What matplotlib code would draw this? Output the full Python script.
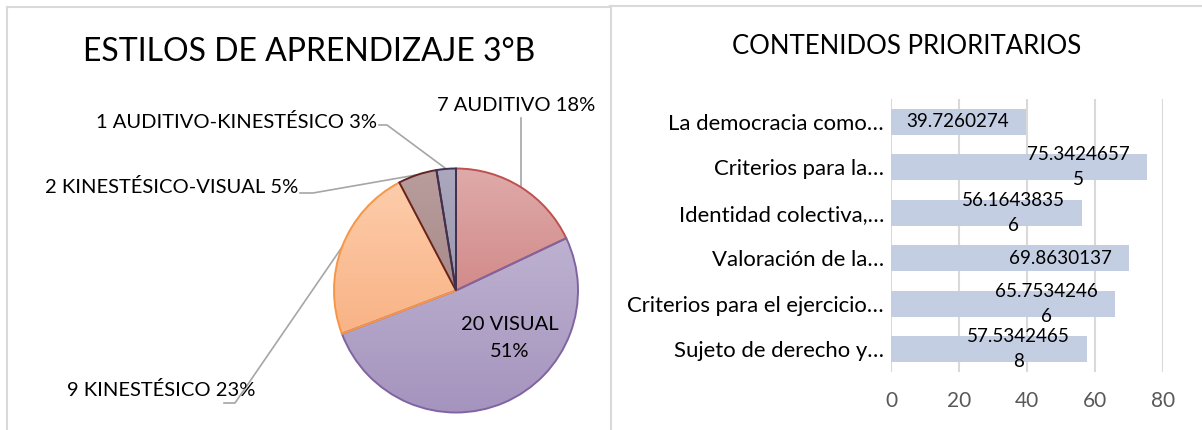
import matplotlib
matplotlib.use("Agg")
import matplotlib.pyplot as plt
import numpy as np
from matplotlib.lines import Line2D
from matplotlib.colors import LinearSegmentedColormap

plt.rcParams["font.family"] = ["Lato", "DejaVu Sans"]

# pie data
pie_title = "ESTILOS DE APRENDIZAJE 3°B"
styles = ["AUDITIVO", "VISUAL", "KINESTÉSICO", "KINESTÉSICO-VISUAL", "AUDITIVO-KINESTÉSICO"]
counts = [7, 20, 9, 2, 1]

# bar data (top to bottom)
bar_title = "CONTENIDOS PRIORITARIOS"
topics = [
    "La democracia como…",
    "Criterios para la…",
    "Identidad colectiva,…",
    "Valoración de la…",
    "Criterios para el ejercicio…",
    "Sujeto de derecho y…",
]
scores = [39.7260274, 75.34246575, 56.16438356, 69.8630137, 65.75342466, 57.53424658]
x_ticks = [0, 20, 40, 60, 80]

W, H = 1202, 430
fig = plt.figure(figsize=(W / 100, H / 100), dpi=100)

def fx(px):
    return px / W

def fy(py):
    return 1 - py / H

# panel borders
border = "#D9D9D9"
for xs, ys in [((7, 610), (6.7, 6.7)), ((7, 7), (6.7, 430)),
               ((610.5, 610.5), (5.5, 430)), ((610, 1202), (5.5, 5.5))]:
    fig.add_artist(Line2D([fx(x) for x in xs], [fy(y) for y in ys], color=border, lw=1.5))

# ---- pie ----
cx, cy, R = 456, 290.5, 122
ax1 = fig.add_axes([fx(cx - R), fy(cy + R), 2 * R / W, 2 * R / H])

# (top, bottom) gradient colours and outline per slice
grads = [("#DEAAA9", "#D28B8A"), ("#BDB1D0", "#A594BE"), ("#FDCCAB", "#F9B385"),
         ("#B99D9D", "#A88A8A"), ("#AAA7BE", "#9C99AF")]
edges = ["#C0504D", "#8064A2", "#F79646", "#632523", "#3F3151"]
wedges, _ = ax1.pie(counts, startangle=90, counterclock=False,
                    wedgeprops=dict(linewidth=1.4))
ramp = np.linspace(0, 1, 64).reshape(-1, 1)
for w, ec, (top, bot) in zip(wedges, edges, grads):
    w.set_edgecolor(ec)
    w.set_facecolor("none")
    w.set_zorder(3)
    bb = w.get_path().get_extents()
    cmap = LinearSegmentedColormap.from_list("g", [bot, top])
    im = ax1.imshow(ramp, cmap=cmap, origin="lower", aspect="auto", zorder=2,
                    extent=[bb.x0, bb.x1, bb.y0, bb.y1], interpolation="bilinear")
    im.set_clip_path(w)
ax1.set_xlim(-1, 1)
ax1.set_ylim(-1, 1)
ax1.axis("off")

def d(px, py):
    return (px - cx) / R, (cy - py) / R

total = sum(counts)
labels = [f"{c} {s} {round(100 * c / total)}%" for c, s in zip(counts, styles)]

lab_fs = 14.5
lead = "#A6A6A6"
# label anchor (px), alignment, leader path end points (px)
layout = {
    0: ((516.5, 105), "center", None),
    2: ((255, 390), "right", [(235, 403), (224, 403)]),
    3: ((298, 187), "right", [(313, 193), (300, 193)]),
    4: ((377, 122), "right", [(387, 125), (379, 125)]),
}
for i, w in enumerate(wedges):
    mid = np.deg2rad((w.theta1 + w.theta2) / 2)
    ex, ey = np.cos(mid), np.sin(mid)
    if i == 1:
        tx, ty = d(510, 338)
        ax1.text(tx, ty, f"{counts[i]} {styles[i]}\n{round(100 * counts[i] / total)}%",
                 ha="center", va="center", fontsize=lab_fs, linespacing=1.75, zorder=4)
        continue
    (lx, ly), ha, path = layout[i]
    tx, ty = d(lx, ly)
    ax1.text(tx, ty, labels[i], ha=ha, va="center", fontsize=lab_fs)
    if path is None:
        pts = [(ex, ey), (ex, d(0, 118)[1])]
    else:
        pts = [(ex, ey)] + [d(*p) for p in path]
    ax1.plot([p[0] for p in pts], [p[1] for p in pts], color=lead, lw=1.2,
             clip_on=False, zorder=1)

fig.text(fx(309), fy(52), pie_title, ha="center", va="center", fontsize=23)

# ---- bars ----
ax2 = fig.add_axes([fx(891), fy(372), 272 / W, 273 / H])
y = np.arange(len(topics))
ax2.barh(y, scores, height=0.57, color="#C4CEE3", zorder=2)
ax2.set_ylim(len(topics) - 0.5, -0.5)
ax2.set_xlim(0, 80)
ax2.set_xticks(x_ticks)
ax2.set_yticks(y)
ax2.set_yticklabels(topics, fontsize=15.9, color="#000000")
ax2.tick_params(axis="x", labelsize=15, labelcolor="#595959", length=0, pad=14)
ax2.tick_params(axis="y", length=0, pad=5)
ax2.grid(axis="x", color="#D9D9D9", lw=1.5, zorder=0)
for s in ax2.spines.values():
    s.set_visible(False)

for yi, v in zip(y, scores):
    s = str(v)
    if len(s) > 10:
        s = s[:10] + "\n" + s[10:]
    ax2.text(v - 5, yi, s, ha="right", va="center", multialignment="center",
             fontsize=13.6, linespacing=1.55, zorder=3)

fig.text(fx(907), fy(47), bar_title, ha="center", va="center", fontsize=18.5)

fig.savefig("out.png", dpi=100)
